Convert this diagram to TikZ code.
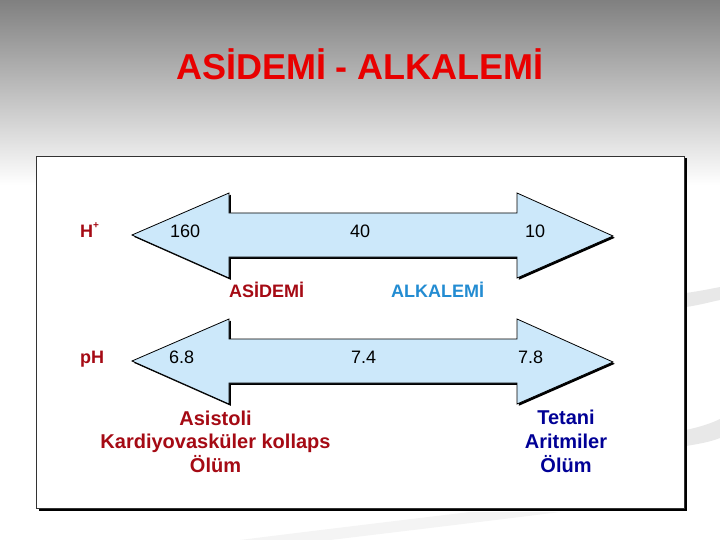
\documentclass[tikz,border=0pt]{standalone}
\usepackage{fontspec}
\setmainfont{Liberation Sans}
\definecolor{bgtop}{RGB}{128,128,128}
\definecolor{arrowblue}{RGB}{204,232,250}
\definecolor{darkred}{RGB}{165,10,20}
\definecolor{titlered}{RGB}{232,0,0}
\definecolor{alkblue}{RGB}{35,140,210}
\definecolor{navy}{RGB}{0,0,150}
\definecolor{swoosh}{RGB}{232,232,232}
\tikzset{
  lbl/.style={font=\fontsize{18}{20}\selectfont, anchor=base west, inner sep=0pt},
  bold18/.style={font=\fontsize{18}{20}\selectfont\bfseries, anchor=base west, inner sep=0pt},
  bold20/.style={font=\fontsize{20}{22}\selectfont\bfseries, anchor=base, inner sep=0pt},
  arrowbody/.style={fill=arrowblue, draw=black, line width=0.8pt, line join=miter},
  arrowshadow/.style={fill=black},
}
\newcommand{\dblarrowpath}{(132,0) -- (229,-42) -- (229,-22) -- (517,-22) -- (517,-42) -- (613,1) -- (517,43) -- (517,22) -- (229,22) -- (229,43) -- cycle}
\begin{document}
\begin{tikzpicture}[x=1pt,y=-1pt]
\useasboundingbox (0,0) rectangle (720,540);
% background
\shade[top color=bgtop, bottom color=white] (0,0) rectangle (720,185);
\fill[white] (0,185) rectangle (720,540);
% swooshes
\fill[swoosh] (686,293) .. controls (700,291) and (710,289) .. (720,287) -- (720,300) .. controls (710,302) and (700,305) .. (686,307) -- cycle;
\fill[swoosh] (686,430) .. controls (700,427) and (712,423) .. (720,419) -- (720,438) .. controls (710,442) and (698,444) .. (686,446) -- cycle;
\fill[swoosh!50!white] (240,540) .. controls (320,530) and (420,518) .. (470,512) -- (560,512) .. controls (480,522) and (380,534) .. (330,540) -- cycle;
% title
\node[font=\fontsize{36}{40}\selectfont\bfseries, text=titlered, anchor=base, inner sep=0pt] (title) at (360,80) {ASİDEMİ - ALKALEMİ};
% frame
\fill[black] (38.5,158.5) rectangle (686.5,510.5);
\filldraw[fill=white, draw=black!80, line width=0.8pt] (36,156) rectangle (684,508);
% arrows
\begin{scope}[shift={(1.8,1.8)}]
  \fill[arrowshadow] [shift={(0,235)}] \dblarrowpath;
  \fill[arrowshadow] [shift={(0,361)}] \dblarrowpath;
\end{scope}
\filldraw[arrowbody] [shift={(0,235)}] \dblarrowpath;
\filldraw[arrowbody] [shift={(0,361)}] \dblarrowpath;
% labels upper
\node[bold18, text=darkred] (hplus) at (80,237) {H\raisebox{0.45em}{\fontsize{10}{10}\selectfont +}};
\node[lbl] (n160) at (170,237) {160};
\node[lbl] (n40) at (350,237) {40};
\node[lbl] (n10) at (525,237) {10};
\node[bold18, text=darkred] (asid) at (229,297) {ASİDEMİ};
\node[bold18, text=alkblue] (alk) at (391,297) {ALKALEMİ};
% labels lower
\node[bold18, text=darkred] (ph) at (80,363) {pH};
\node[lbl] (n68) at (169,363) {6.8};
\node[lbl] (n74) at (351,363) {7.4};
\node[lbl] (n78) at (518,363) {7.8};
% bottom texts
\node[bold20, text=darkred] (asis1) at (215.5,425) {Asistoli};
\node[bold20, text=darkred] (asis2) at (215.5,448.5) {Kardiyovasküler kollaps};
\node[bold20, text=darkred] (asis3) at (215.5,472) {Ölüm};
\node[bold20, text=navy] (tet1) at (566,424) {Tetani};
\node[bold20, text=navy] (tet2) at (566,448.5) {Aritmiler};
\node[bold20, text=navy] (tet3) at (566,472) {Ölüm};
\end{tikzpicture}
\end{document}
